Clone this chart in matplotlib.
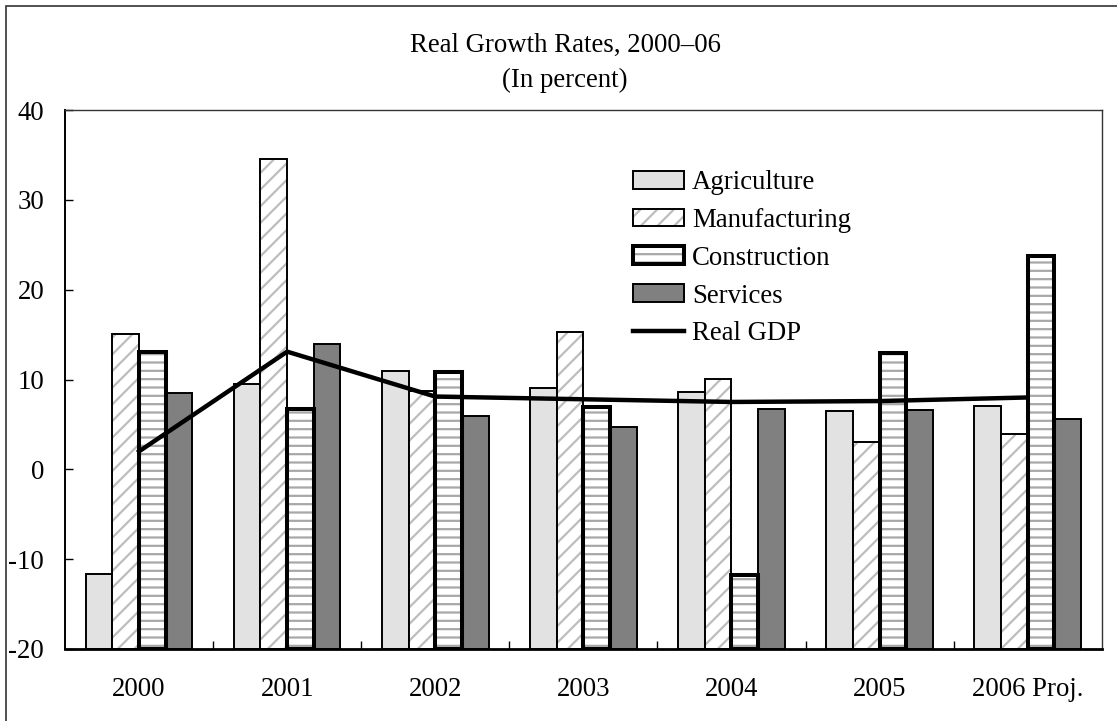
import numpy as np
import matplotlib
matplotlib.use("Agg")
import matplotlib.pyplot as plt
from matplotlib.patches import Rectangle

plt.rcParams['font.family'] = ['Liberation Serif', 'DejaVu Serif']
plt.rcParams['axes.unicode_minus'] = False
plt.rcParams['hatch.linewidth'] = 1.6

# data
years = ['2000', '2001', '2002', '2003', '2004', '2005', '2006 Proj.']
agriculture = [-11.6, 9.5, 11.0, 9.1, 8.6, 6.5, 7.0]
manufacturing = [15.1, 34.6, 8.7, 15.3, 10.1, 3.0, 3.9]
construction = [13.1, 6.7, 10.8, 6.9, -11.8, 13.0, 23.7]
services = [8.5, 14.0, 5.9, 4.7, 6.7, 6.6, 5.6]
real_gdp = [2.0, 13.1, 8.1, 7.8, 7.5, 7.6, 8.0]

ymin, ymax = -20, 40
W, H = 1117, 721
fs = 19.3

fig = plt.figure(figsize=(W / 100, H / 100), dpi=100)
ax = fig.add_axes([65 / W, 1 - 649 / H, (1101.7 - 65) / W, (649 - 110) / H])

x = np.arange(len(years)) + 0.5
w = 0.18

def bars(vals, offset, **kw):
    vals = np.array(vals)
    return ax.bar(x + offset * w, vals - ymin, bottom=ymin, width=w, **kw)

# agriculture: light grey fill
h_agr = bars(agriculture, -1.5, color='#e2e2e2', edgecolor='black', linewidth=1.4, zorder=2)

# manufacturing: grey diagonal hatch, black outline on top
m_fill = bars(manufacturing, -0.5, facecolor='white', edgecolor='#bdbdbd', hatch='//', linewidth=0, zorder=2)
m_edge = bars(manufacturing, -0.5, fill=False, edgecolor='black', linewidth=1.4, zorder=3)

# construction: grey horizontal hatch, heavy black outline
c_fill = bars(construction, 0.5, facecolor='white', edgecolor='#a8a8a8', hatch='--', linewidth=0, zorder=2)
c_edge = bars(construction, 0.5, fill=False, edgecolor='black', linewidth=2.9, zorder=3)

h_srv = bars(services, 1.5, color='#808080', edgecolor='black', linewidth=1.4, zorder=2)

line, = ax.plot(x, real_gdp, color='black', linewidth=3.2, zorder=4,
                solid_joinstyle='miter')

ax.set_xlim(0, len(years))
ax.set_ylim(ymin, ymax)
ax.set_yticks(np.arange(ymin, ymax + 1, 10))
ax.set_xticks(x)
ax.set_xticklabels(years)
ax.set_xticks(np.arange(1, len(years)), minor=True)

ax.tick_params(axis='y', direction='in', length=6, width=1, labelsize=fs, pad=15)
ax.tick_params(axis='x', which='major', length=0, labelsize=fs, pad=20)
ax.tick_params(axis='x', which='minor', direction='in', length=6, width=1)

for s in ['top', 'right', 'left']:
    ax.spines[s].set_linewidth(1.0)
    ax.spines[s].set_color('#333333')
ax.spines['bottom'].set_linewidth(2.0)
ax.spines['left'].set_color('black')
ax.spines['left'].set_linewidth(1.4)

leg = ax.legend([h_agr, (m_fill, m_edge), (c_fill, c_edge), h_srv, line],
                ['Agriculture', 'Manufacturing', 'Construction', 'Services', 'Real GDP'],
                loc='upper left', bbox_to_anchor=(633 / W, 1 - 170 / H),
                bbox_transform=fig.transFigure, frameon=False, fontsize=fs,
                handlelength=1.9, handleheight=0.65, handletextpad=0.3,
                labelspacing=0.48, borderpad=0, borderaxespad=0)

fig.text(565 / W, 1 - 45 / H, 'Real Growth Rates, 2000–06', ha='center', va='center', fontsize=fs)
fig.text(565 / W, 1 - 80 / H, '(In percent)', ha='center', va='center', fontsize=fs)

# outer chart frame (cut off at right and bottom in the reference)
fig.patches.append(Rectangle((6 / W, -0.1), 2, 1 - 6 / H + 0.1, transform=fig.transFigure,
                             fill=False, edgecolor='#333333', linewidth=1.2))

fig.savefig('out.png', dpi=100)
